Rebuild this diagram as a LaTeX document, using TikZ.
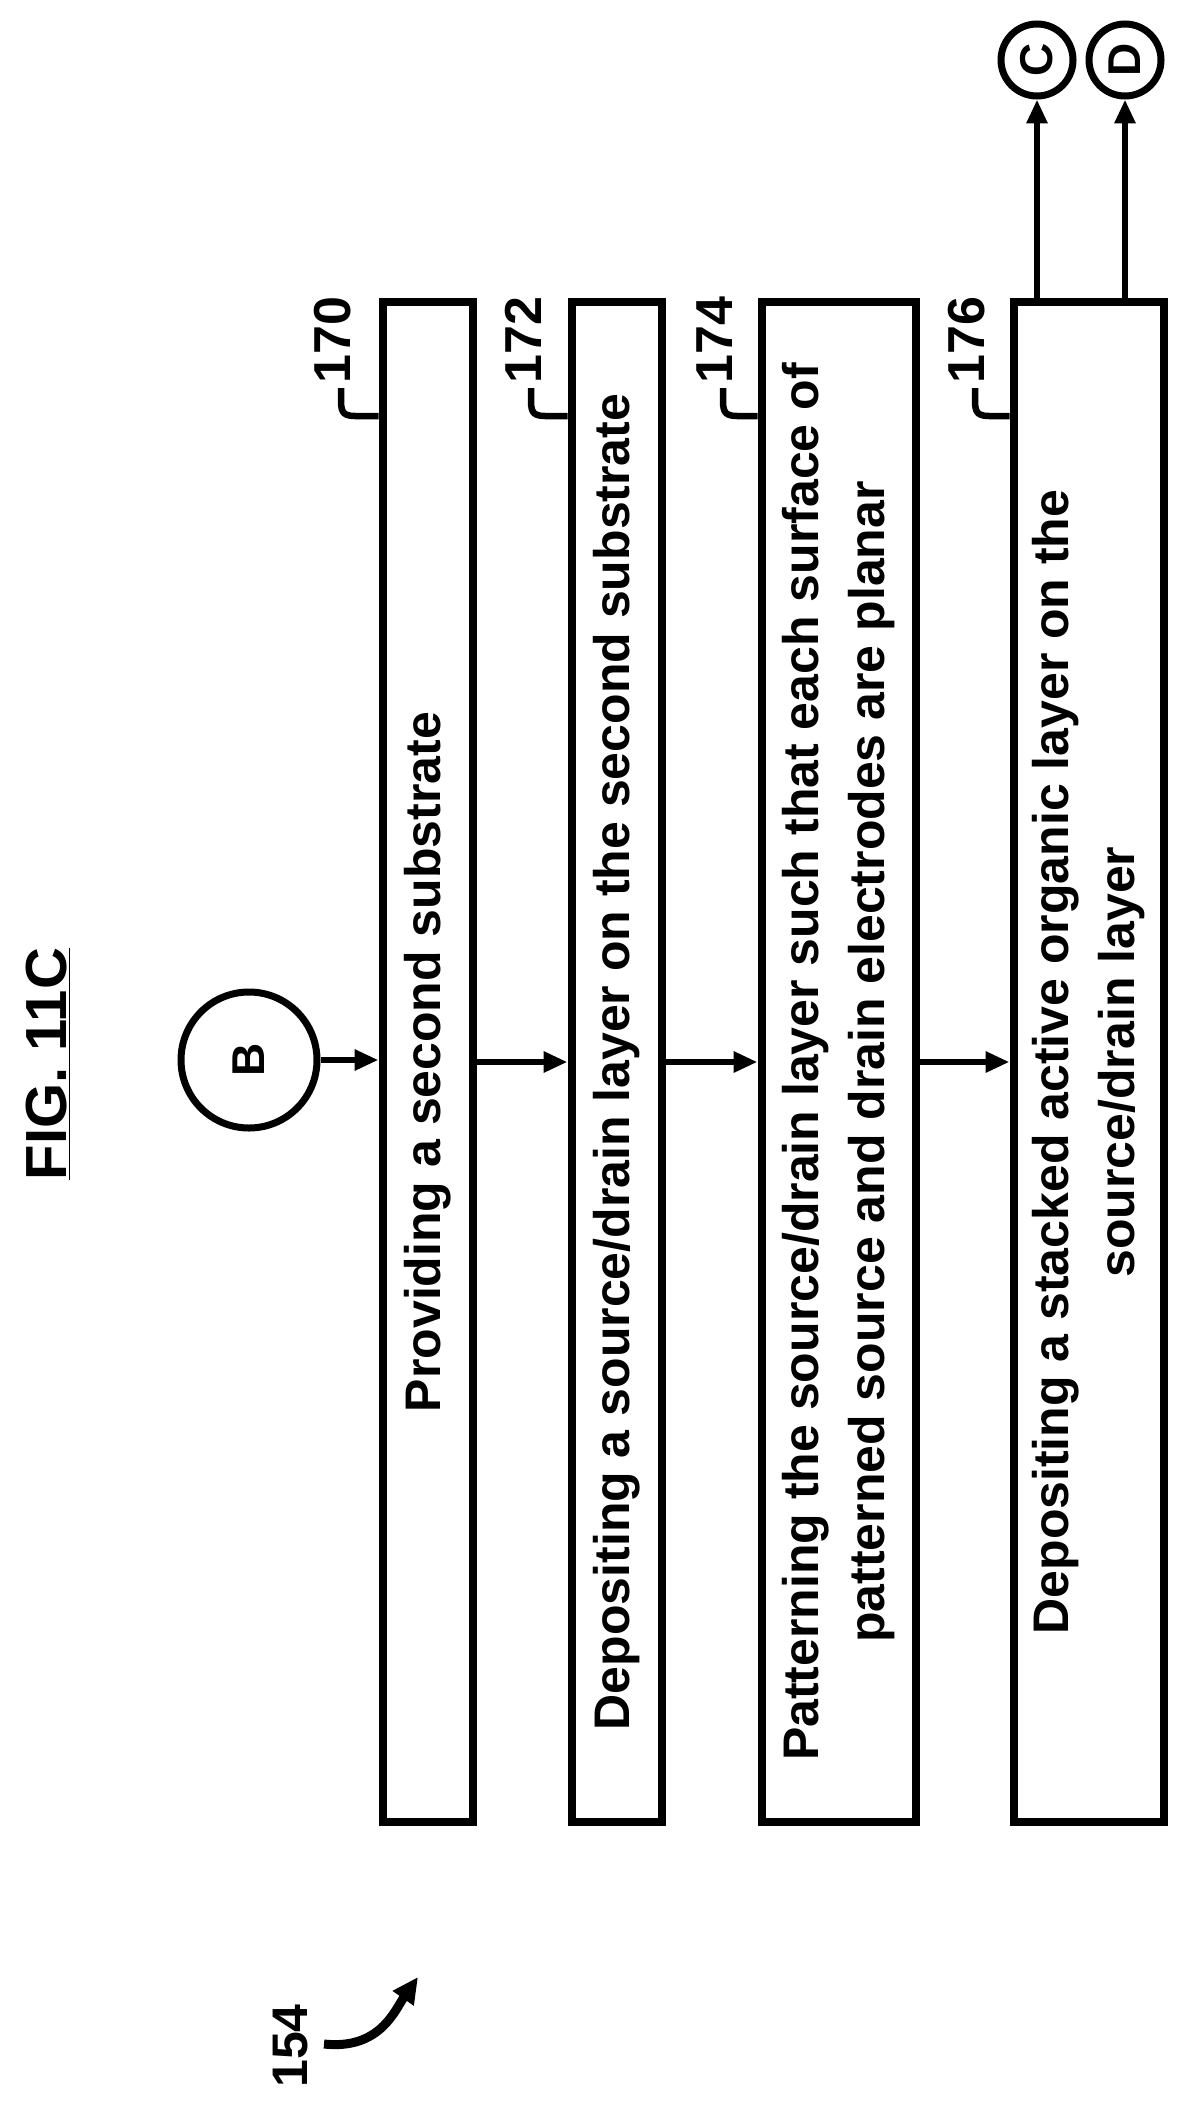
\documentclass[tikz,border=0pt]{standalone}
\usepackage{fontspec}
\setmainfont{Liberation Sans}
\usetikzlibrary{arrows.meta}
\begin{document}
\begin{tikzpicture}[x=1pt,y=-1pt,
  stepbox/.style={draw,line width=8pt,rotate=90,minimum width=1520pt,inner sep=0pt,align=center,font=\fontsize{50}{66}\selectfont\bfseries},
  conn/.style={draw,line width=6.5pt,-{Triangle[length=24pt,width=20pt]}},
  circ/.style={draw,circle,line width=7pt,font=\fontsize{46}{50}\selectfont\bfseries,inner sep=0pt},
  lead/.style={draw,line width=6.5pt},
  refl/.style={rotate=90,font=\fontsize{52}{56}\selectfont\bfseries}]
\useasboundingbox (0,0) rectangle (1185,2103);
\node[stepbox,minimum height=90pt] (b170) at (427.5,1062) {Providing a second substrate};
\node[stepbox,minimum height=90pt] (b172) at (616.5,1062) {Depositing a source/drain layer on the second substrate};
\node[stepbox,minimum height=154pt] (b174) at (838.5,1062) {Patterning the source/drain layer such that each surface of\\patterned source and drain electrodes are planar};
\node[stepbox,minimum height=150pt] (b176) at (1088.5,1062) {Depositing a stacked active organic layer on the\\source/drain layer};
\node[circ,minimum size=136pt] (B) at (249,1060) {\rotatebox{90}{B}};
\node[circ,minimum size=72pt] (C) at (1037,60) {\rotatebox{90}{C}};
\node[circ,minimum size=72pt] (D) at (1125,60) {\rotatebox{90}{D}};
\draw[conn] (B) -- (B -| b170.north);
\draw[conn] (b170.south) -- (b172.north);
\draw[conn] (b172.south) -- (b174.north);
\draw[conn] (b174.south) -- (b176.north);
\draw[conn] (b176.east -| C) -- (C);
\draw[conn] (b176.east -| D) -- (D);
\node[refl] (n170) at (333,340) {170};
\node[refl] (n172) at (523,340) {172};
\node[refl] (n174) at (715,340) {174};
\node[refl] (n176) at (967,340) {176};
\foreach \x/\b in {341/b170,531/b172,723/b174,975/b176}{
  \coordinate (t\b) at (\x,388);
  \draw[lead] (\b.north west |- 0,416) -- (\x+14,416) .. controls (\x,416) and (\x,410) .. (\x,397) -- (t\b);
}
\node[rotate=90,font=\fontsize{58}{64}\selectfont\bfseries] (fig) at (48,1064) {\underline{FIG. 11C}};
\node[rotate=90,font=\fontsize{50}{54}\selectfont\bfseries] (n154) at (291,2046) {154};
\coordinate (s154) at (324,2044);
\coordinate (e154) at (418,1977);
\draw[line width=9pt,-{Triangle[length=26pt,width=24pt]}] (s154) .. controls (380,2050) and (395,2010) .. (e154);
\end{tikzpicture}
\end{document}
